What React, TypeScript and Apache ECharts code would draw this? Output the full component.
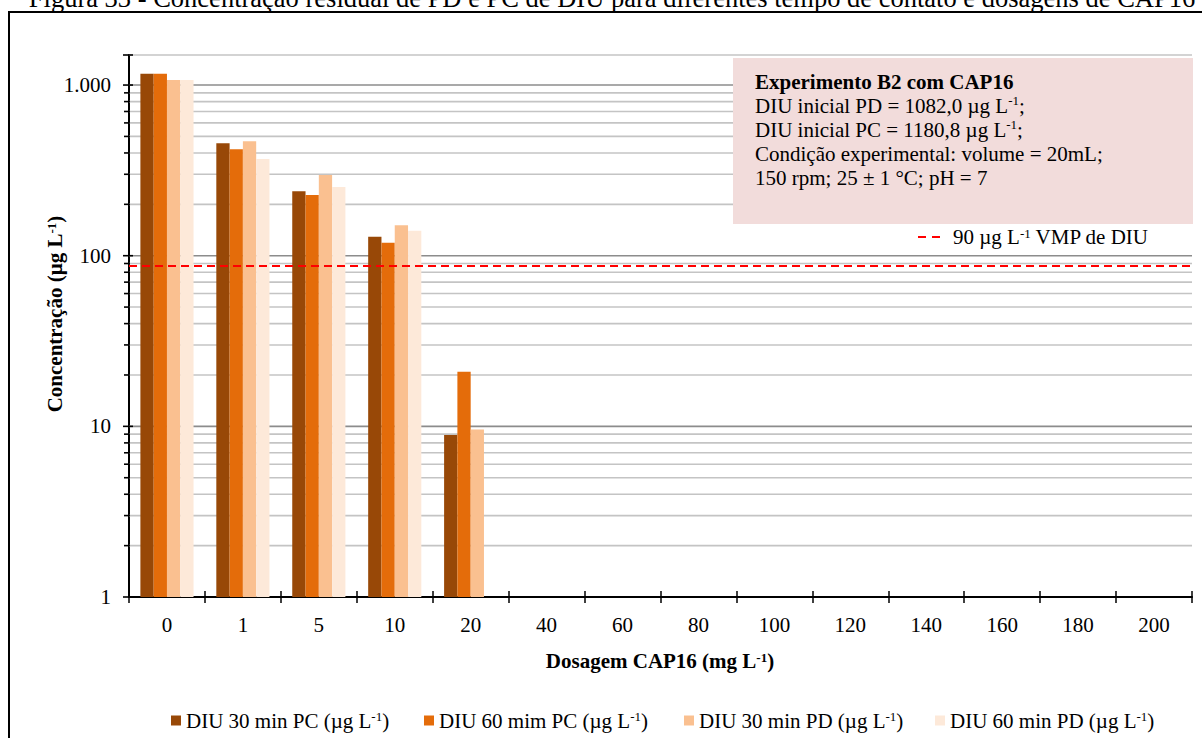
import React, { useEffect, useRef } from 'react';
import * as echarts from 'echarts';

const categories = ['0', '1', '5', '10', '20', '40', '60', '80', '100', '120', '140', '160', '180', '200'];
const seriesNames = [
  'DIU 30 min PC (µg L-1)',
  'DIU 60 mim PC (µg L-1)',
  'DIU 30 min PD (µg L-1)',
  'DIU 60 min PD (µg L-1)',
];
const pc30 = [1165, 456, 239, 129, 8.9, null, null, null, null, null, null, null, null, null];
const pc60 = [1165, 421, 227, 119, 20.9, null, null, null, null, null, null, null, null, null];
const pd30 = [1070, 469, 297, 151, 9.6, null, null, null, null, null, null, null, null, null];
const pd60 = [1070, 369, 253, 140, null, null, null, null, null, null, null, null, null, null];
const colors = ['#984807', '#E46C0A', '#FAC090', '#FDE9D9'];
const vmpValue = 87;
const yMajorTicks = [1, 10, 100, 1000];
const yMinorTicks = [2, 3, 4, 5, 6, 7, 8, 9, 20, 30, 40, 50, 60, 70, 80, 90, 200, 300, 400, 500, 600, 700, 800, 900];
const yMax = 1500;
const legendLefts = [166, 419, 679, 930];

const FONT = '"Liberation Serif", "Times New Roman", serif';
const FS = 21;

const rich = {
  s: { fontSize: 13, fontFamily: FONT, verticalAlign: 'top', lineHeight: 15, color: '#000' },
  b: { fontSize: FS, fontFamily: FONT, fontWeight: 'bold', color: '#000', lineHeight: 24 },
  bs: { fontSize: 13, fontFamily: FONT, fontWeight: 'bold', verticalAlign: 'top', lineHeight: 15, color: '#000' },
};

const fmtThousands = (v: number) => String(v).replace(/\B(?=(\d{3})+(?!\d))/g, '.');

export default function App() {
  const ref = useRef<HTMLDivElement>(null);
  useEffect(() => {
    if (!ref.current) return;
    const chart = echarts.init(ref.current, null, { renderer: 'svg' });
    const tickData = [
      ...yMajorTicks.map((v) => [0, v, 1]),
      ...yMinorTicks.map((v) => [0, v, 0]),
      [0, yMax, 2],
    ];
    const values = [pc30, pc60, pd30, pd60];
    const option: any = {
      animation: false,
      textStyle: { fontFamily: FONT, color: '#000' },
      grid: { left: 129, right: 10, top: 55, bottom: 141, containLabel: false },
      xAxis: [
        {
          type: 'category',
          data: categories,
          position: 'bottom',
          boundaryGap: true,
          axisLine: { lineStyle: { color: '#000', width: 2 } },
          axisTick: { show: true, interval: 0, length: 6, lineStyle: { color: '#000', width: 1.5 } },
          axisLabel: { interval: 0, fontSize: FS, fontFamily: FONT, color: '#000', margin: 17 },
          splitLine: { show: false },
        },
        {
          type: 'category',
          data: categories,
          position: 'bottom',
          boundaryGap: true,
          axisLine: { show: false },
          axisTick: { show: true, inside: true, interval: 0, length: 6, lineStyle: { color: '#000', width: 1.5 } },
          axisLabel: { show: false },
          splitLine: { show: false },
        },
      ],
      yAxis: {
        type: 'log',
        logBase: 10,
        min: 1,
        max: yMax,
        axisLine: { show: true, lineStyle: { color: '#000', width: 2 } },
        axisTick: { show: false },
        axisLabel: {
          fontSize: FS,
          fontFamily: FONT,
          color: '#000',
          margin: 18,
          formatter: (v: number) => (yMajorTicks.includes(v) ? fmtThousands(v) : ''),
        },
        splitLine: { show: false },
        minorSplitLine: { show: false },
      },
      legend: seriesNames.map((n, i) => ({
        left: legendLefts[i],
        top: 705,
        itemWidth: 10,
        itemHeight: 10,
        itemGap: 0,
        icon: 'rect',
        data: [n],
        formatter: (name: string) => name.replace('L-1', 'L{s|-1}'),
        textStyle: { fontSize: FS, fontFamily: FONT, color: '#000', rich },
      })),
      series: [
        {
          type: 'custom',
          name: 'grid',
          z: 1,
          silent: true,
          clip: false,
          data: tickData,
          renderItem: (params: any, api: any) => {
            const v = api.value(1);
            const kind = api.value(2);
            const y = api.coord([0, v])[1];
            const cs = params.coordSys;
            const children: any[] = [];
            if (kind !== 1 || v !== 1) {
              children.push({
                type: 'line',
                shape: { x1: cs.x, y1: y, x2: cs.x + cs.width, y2: y },
                style: { stroke: kind === 1 ? '#8c8c8c' : '#c4c4c4', lineWidth: 1.6 },
              });
            }
            const left = kind === 0 ? 5 : 6;
            const right = kind === 0 ? 1 : 4;
            children.push({
              type: 'line',
              shape: { x1: cs.x - left, y1: y, x2: cs.x + right, y2: y },
              style: { stroke: '#000', lineWidth: 1.6 },
            });
            return { type: 'group', children };
          },
        },
        ...values.map((d, i) => ({
          type: 'bar',
          name: seriesNames[i],
          data: d,
          z: 2,
          barGap: '0%',
          barCategoryGap: '30%',
          itemStyle: { color: colors[i] },
          ...(i === 0
            ? {
                markLine: {
                  silent: true,
                  symbol: 'none',
                  label: { show: false },
                  lineStyle: { color: '#ff0000', type: [8, 5], width: 2 },
                  data: [{ yAxis: vmpValue }],
                },
              }
            : {}),
        })),
      ],
      graphic: [
        {
          type: 'rect',
          z: 100,
          shape: { x: 9, y: 12, width: 1300, height: 800 },
          style: { fill: 'none', stroke: '#000', lineWidth: 2 },
          silent: true,
        },
        {
          type: 'text',
          z: 100,
          x: 612,
          y: 11,
          style: {
            text: 'Figura 33 - Concentração residual de PD e PC de DIU para diferentes tempo de contato e dosagens de CAP16',
            fontSize: 26.5,
            fontFamily: FONT,
            fill: '#000',
            align: 'center',
            verticalAlign: 'bottom',
          },
        },
        {
          type: 'rect',
          z: 100,
          shape: { x: 733, y: 58, width: 460, height: 166 },
          style: { fill: '#f2dcdb' },
        },
        {
          type: 'text',
          z: 101,
          x: 755,
          y: 70,
          style: {
            text:
              '{b|Experimento B2 com CAP16}\nDIU inicial PD = 1082,0 µg L{s|-1};\nDIU inicial PC = 1180,8 µg L{s|-1};\nCondição experimental: volume = 20mL;\n150 rpm; 25 ± 1 °C; pH = 7',
            fontSize: FS,
            fontFamily: FONT,
            fill: '#000',
            lineHeight: 24,
            rich,
          },
        },
        {
          type: 'line',
          z: 100,
          shape: { x1: 918, y1: 237, x2: 941, y2: 237 },
          style: { stroke: '#ff0000', lineWidth: 2, lineDash: [8, 6] },
        },
        {
          type: 'text',
          z: 100,
          x: 953,
          y: 237,
          style: {
            text: '90 µg L{s|-1} VMP de DIU',
            fontSize: FS,
            fontFamily: FONT,
            fill: '#000',
            verticalAlign: 'middle',
            rich,
          },
        },
        {
          type: 'text',
          z: 100,
          x: 55,
          y: 314,
          rotation: Math.PI / 2,
          style: {
            text: 'Concentração (µg L{bs|-1})',
            fontSize: FS,
            fontWeight: 'bold',
            fontFamily: FONT,
            fill: '#000',
            align: 'center',
            verticalAlign: 'middle',
            rich,
          },
        },
        {
          type: 'text',
          z: 100,
          x: 660,
          y: 661,
          style: {
            text: 'Dosagem CAP16 (mg L{bs|-1})',
            fontSize: FS,
            fontWeight: 'bold',
            fontFamily: FONT,
            fill: '#000',
            align: 'center',
            verticalAlign: 'middle',
            rich,
          },
        },
      ],
    };
    chart.setOption(option);
    return () => chart.dispose();
  }, []);
  return <div ref={ref} style={{ position: 'absolute', left: 0, top: 0, width: 1202, height: 738 }} />;
}
